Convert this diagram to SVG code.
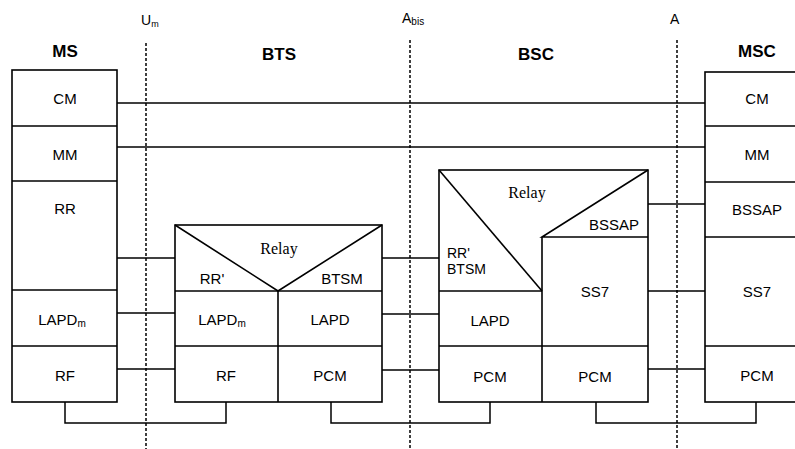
<svg xmlns="http://www.w3.org/2000/svg" width="795" height="449" viewBox="0 0 795 449">
<style>
.b{fill:none;stroke:#000;stroke-width:1.6}
.c{fill:none;stroke:#000;stroke-width:1.5}
.d{fill:none;stroke:#000;stroke-width:1.5;stroke-dasharray:3 2}
.t{font-family:"Liberation Sans",Arial,sans-serif;font-size:15px;text-anchor:middle;fill:#000}
.s{font-family:"Liberation Sans",Arial,sans-serif;font-size:14px;text-anchor:start;fill:#000}
.h{font-family:"Liberation Sans",Arial,sans-serif;font-size:17px;font-weight:bold;text-anchor:middle;fill:#000}
.r{font-family:"Liberation Serif","Times New Roman",serif;font-size:16px;text-anchor:middle;fill:#000}
</style>
<rect width="795" height="449" fill="#fff"/>
<g id="interfaces">
<line class="d" x1="146" y1="43" x2="146" y2="449"/>
<line class="d" x1="410" y1="40" x2="410" y2="449"/>
<line class="d" x1="677" y1="40" x2="677" y2="449"/>
<text class="s" x="141" y="25">U<tspan font-size="9" dy="2">m</tspan></text>
<text class="s" x="402" y="23">A<tspan font-size="10" dy="2">bis</tspan></text>
<text class="s" x="670" y="24">A</text>
</g>
<g id="connectors">
<line class="c" x1="117" y1="103" x2="705" y2="103"/>
<line class="c" x1="117" y1="147" x2="705" y2="147"/>
<line class="c" x1="117" y1="258" x2="175" y2="258"/>
<line class="c" x1="117" y1="313" x2="175" y2="313"/>
<line class="c" x1="117" y1="369" x2="175" y2="369"/>
<polyline class="c" points="65,402 65,423 226,423 226,402"/>
<line class="c" x1="382" y1="258" x2="439" y2="258"/>
<line class="c" x1="382" y1="314" x2="439" y2="314"/>
<line class="c" x1="382" y1="370" x2="439" y2="370"/>
<polyline class="c" points="331,402 331,423 490,423 490,402"/>
<line class="c" x1="648" y1="204" x2="705" y2="204"/>
<line class="c" x1="648" y1="291" x2="705" y2="291"/>
<line class="c" x1="648" y1="369" x2="705" y2="369"/>
<polyline class="c" points="596,402 596,423 756,423 756,402"/>
</g>
<g id="MS">
<text class="h" x="65" y="57">MS</text>
<rect class="b" x="12" y="70" width="105" height="332"/>
<line class="b" x1="12" y1="126" x2="117" y2="126"/>
<line class="b" x1="12" y1="181" x2="117" y2="181"/>
<line class="b" x1="12" y1="290" x2="117" y2="290"/>
<line class="b" x1="12" y1="346" x2="117" y2="346"/>
<text class="t" x="65" y="104">CM</text>
<text class="t" x="65" y="160">MM</text>
<text class="t" x="65" y="214">RR</text>
<text class="t" x="62" y="325">LAPD<tspan font-size="10" dy="2">m</tspan></text>
<text class="t" x="65" y="381">RF</text>
</g>
<g id="BTS">
<text class="h" x="279" y="60">BTS</text>
<rect class="b" x="175" y="225" width="207" height="177"/>
<polyline class="b" points="175,225 278,291 382,225"/>
<line class="b" x1="175" y1="291" x2="382" y2="291"/>
<line class="b" x1="175" y1="346" x2="382" y2="346"/>
<line class="b" x1="278" y1="291" x2="278" y2="402"/>
<text class="r" x="279" y="254">Relay</text>
<text class="t" x="212" y="284">RR'</text>
<text class="t" x="342" y="284">BTSM</text>
<text class="t" x="222" y="325">LAPD<tspan font-size="10" dy="2">m</tspan></text>
<text class="t" x="330" y="325">LAPD</text>
<text class="t" x="226" y="381">RF</text>
<text class="t" x="330" y="381">PCM</text>
</g>
<g id="BSC">
<text class="h" x="536" y="60">BSC</text>
<rect class="b" x="439" y="170" width="209" height="232"/>
<line class="b" x1="439" y1="170" x2="542" y2="291"/>
<polyline class="b" points="648,170 542,237 648,237"/>
<line class="b" x1="542" y1="237" x2="542" y2="402"/>
<line class="b" x1="439" y1="291" x2="542" y2="291"/>
<line class="b" x1="439" y1="346" x2="648" y2="346"/>
<text class="r" x="527" y="198">Relay</text>
<text class="t" x="614" y="230" font-size="13">BSSAP</text>
<text class="s" x="447" y="258" font-size="15">RR'</text>
<text class="s" x="447" y="274" font-size="15">BTSM</text>
<text class="t" x="490" y="326">LAPD</text>
<text class="t" x="595" y="297">SS7</text>
<text class="t" x="490" y="382">PCM</text>
<text class="t" x="595" y="382">PCM</text>
</g>
<g id="MSC">
<text class="h" x="757" y="57">MSC</text>
<rect class="b" x="705" y="72" width="95" height="330"/>
<line class="b" x1="705" y1="126" x2="795" y2="126"/>
<line class="b" x1="705" y1="182" x2="795" y2="182"/>
<line class="b" x1="705" y1="237" x2="795" y2="237"/>
<line class="b" x1="705" y1="346" x2="795" y2="346"/>
<text class="t" x="757" y="104">CM</text>
<text class="t" x="757" y="160">MM</text>
<text class="t" x="757" y="215">BSSAP</text>
<text class="t" x="757" y="297">SS7</text>
<text class="t" x="757" y="381">PCM</text>
</g>
</svg>
